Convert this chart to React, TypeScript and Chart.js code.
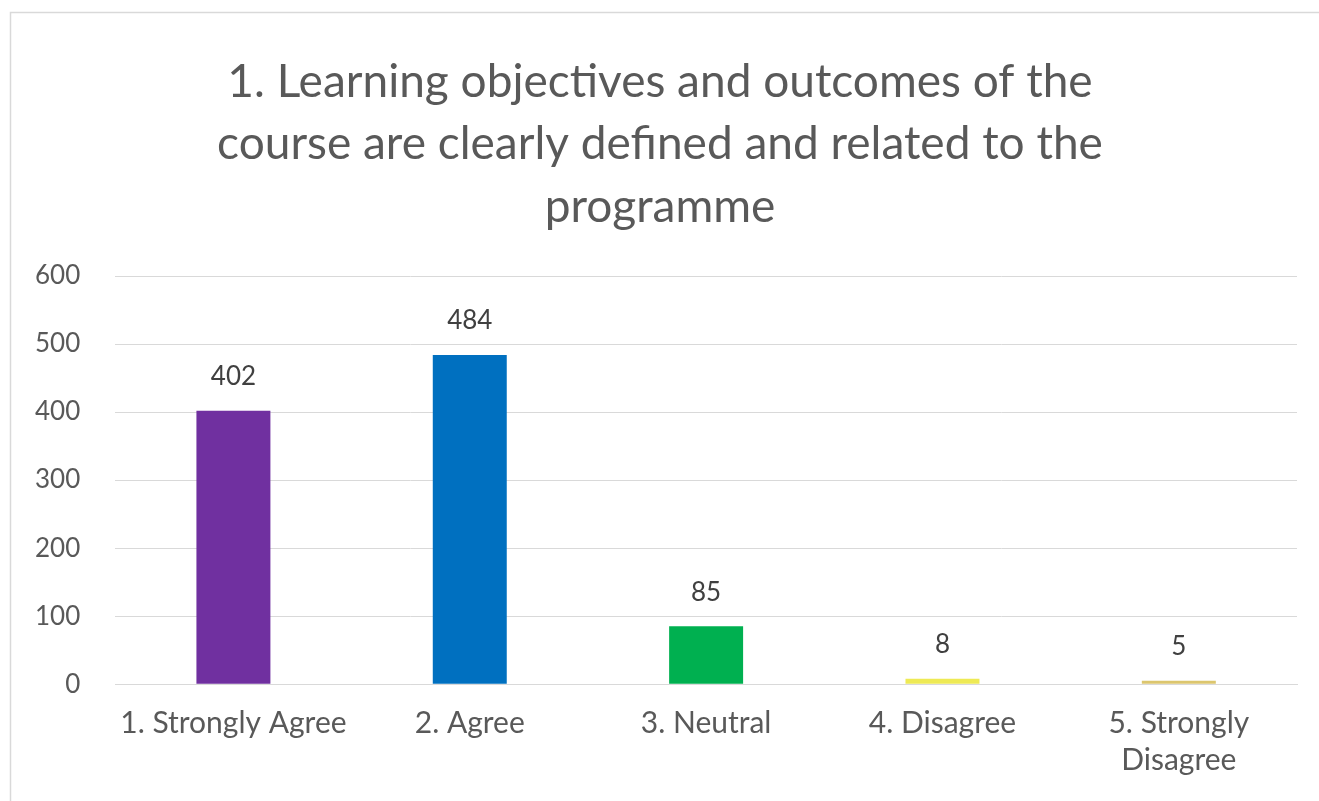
import React, { useEffect, useRef } from "react";
import { Chart, registerables } from "chart.js";

Chart.register(...registerables);

const categories: (string | string[])[] = [
  "1. Strongly Agree",
  "2. Agree",
  "3. Neutral",
  "4. Disagree",
  ["5. Strongly", "Disagree"],
];
const responses = [402, 484, 85, 8, 5];
const barColors = ["#7030A0", "#0070C0", "#00B050", "#EEEA55", "#DCC66E"];
const titleLines = [
  "1. Learning objectives and outcomes of the",
  "course are clearly defined and related to the",
  "programme",
];

const FONT = "Lato, 'Open Sans', sans-serif";

const frame = {
  id: "frame",
  beforeDraw(chart: any) {
    const { ctx } = chart;
    ctx.save();
    ctx.fillStyle = "#ffffff";
    ctx.fillRect(0, 0, chart.width, chart.height);
    ctx.strokeStyle = "#d9d9d9";
    ctx.lineWidth = 1.5;
    ctx.strokeRect(10.5, 12.5, chart.width + 20, chart.height + 20);
    ctx.restore();
  },
};

const chartTitle = {
  id: "chartTitle",
  afterDraw(chart: any) {
    const { ctx } = chart;
    ctx.save();
    ctx.fillStyle = "#595959";
    ctx.font = `46px ${FONT}`;
    ctx.textAlign = "center";
    ctx.textBaseline = "middle";
    titleLines.forEach((line, i) => {
      ctx.fillText(line, 660, 82 + i * 62.5);
    });
    ctx.restore();
  },
};

const valueLabels = {
  id: "valueLabels",
  afterDatasetsDraw(chart: any) {
    const { ctx } = chart;
    const meta = chart.getDatasetMeta(0);
    ctx.save();
    ctx.fillStyle = "#404040";
    ctx.font = `26px ${FONT}`;
    ctx.textAlign = "center";
    ctx.textBaseline = "middle";
    meta.data.forEach((bar: any, i: number) => {
      ctx.fillText(String(responses[i]), bar.x, bar.y - 34);
    });
    ctx.restore();
  },
};

export default function App() {
  const ref = useRef<HTMLCanvasElement>(null);
  useEffect(() => {
    if (!ref.current) return;
    const chart = new Chart(ref.current, {
      type: "bar",
      data: {
        labels: categories,
        datasets: [
          {
            data: responses,
            backgroundColor: barColors,
            categoryPercentage: 1,
            barPercentage: 0.313,
          },
        ],
      },
      options: {
        animation: false,
        responsive: false,
        layout: { padding: { left: 0, right: 22, top: 276, bottom: 1 } },
        plugins: {
          legend: { display: false },
          tooltip: { enabled: false },
          title: { display: false },
        },
        scales: {
          x: {
            grid: { display: false, drawTicks: false },
            border: { display: true, color: "#d9d9d9" },
            ticks: {
              color: "#595959",
              font: { family: FONT, size: 30, lineHeight: 1.23 },
              maxRotation: 0,
              autoSkip: false,
              padding: 21,
            },
          },
          y: {
            min: 0,
            max: 600,
            ticks: {
              stepSize: 100,
              color: "#595959",
              font: { family: FONT, size: 26 },
              padding: 35,
            },
            grid: { color: "#d9d9d9", drawTicks: false },
            border: { display: false },
          },
        },
      },
      plugins: [frame, chartTitle, valueLabels],
    });
    return () => chart.destroy();
  }, []);
  return (
    <div style={{ position: "fixed", left: 0, top: 0, width: 1319, height: 801 }}>
      <canvas ref={ref} width={1319} height={801} />
    </div>
  );
}
